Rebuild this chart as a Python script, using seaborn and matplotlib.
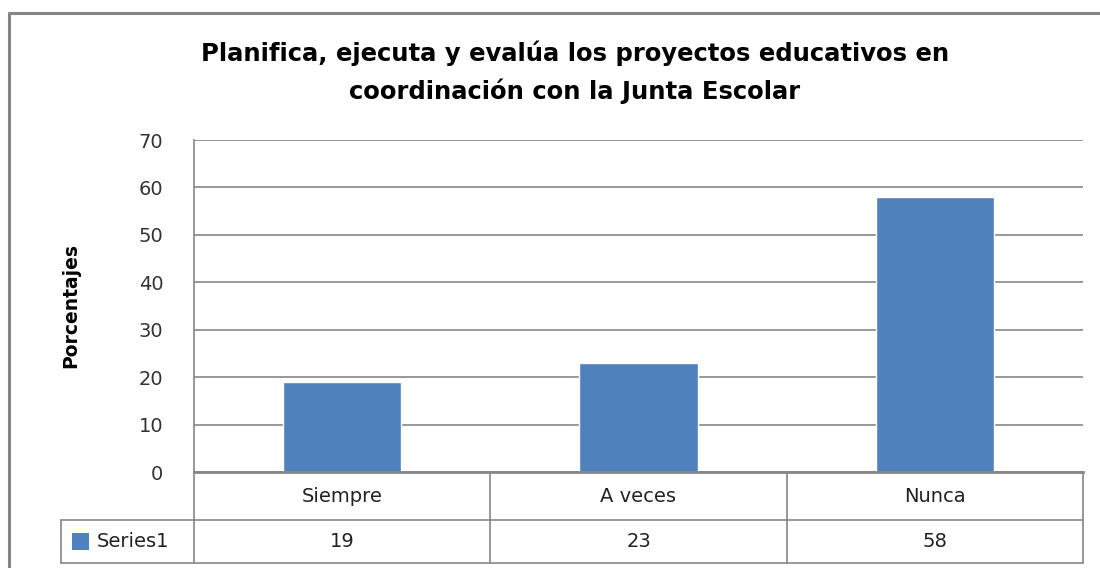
import numpy as np
import pandas as pd
import matplotlib
matplotlib.use('Agg')
import matplotlib.pyplot as plt
from matplotlib.lines import Line2D
from matplotlib.patches import Rectangle
import seaborn as sns

# datos
categorias = ['Siempre', 'A veces', 'Nunca']
valores = [19, 23, 58]
serie = 'Series1'
titulo = 'Planifica, ejecuta y evalúa los proyectos educativos en\ncoordinación con la Junta Escolar'
etiqueta_y = 'Porcentajes'
ticks_y = [0, 10, 20, 30, 40, 50, 60, 70]

AZUL = '#4F81BD'
GRIS = '#868686'
W, H = 1100, 568

sns.set_theme(style='white')
plt.rcParams['font.family'] = ['DejaVu Sans']

df = pd.DataFrame({'categoria': categorias, 'valor': valores})

fig = plt.figure(figsize=(W / 100, H / 100), dpi=100)
fig.patch.set_facecolor('white')

# área de trazado (pixeles -> fracción de figura)
x0, x1, y0, y1 = 194, 1083, 472, 140
ax = fig.add_axes([x0 / W, (H - y0) / H, (x1 - x0) / W, (y0 - y1) / H])

sns.barplot(data=df, x='categoria', y='valor', color=AZUL, width=0.4,
            saturation=1, ax=ax)

ax.set_xlim(-0.5, len(categorias) - 0.5)
ax.set_ylim(ticks_y[0], ticks_y[-1])
ax.set_yticks(ticks_y)
ax.set_yticklabels([str(t) for t in ticks_y], fontsize=14, color='#333333')
ax.tick_params(axis='y', length=0, pad=22)
ax.set_xticks([])
ax.set_xlabel('')
ax.yaxis.grid(True, color=GRIS, linewidth=1.2)
ax.set_axisbelow(True)
for lado in ['top', 'right']:
    ax.spines[lado].set_visible(False)
ax.spines['left'].set_color(GRIS)
ax.spines['left'].set_linewidth(1.2)
ax.spines['bottom'].set_color(GRIS)
ax.spines['bottom'].set_linewidth(2)

ax.set_ylabel(etiqueta_y, fontsize=13.5, fontweight='bold', color='black')
ax.yaxis.set_label_coords(-0.128, 0.5)

# tabla de datos bajo el eje
alto = y0 - y1
fila1 = -(520 - y0) / alto
fila2 = -(563 - y0) / alto
ancho_cat = (x1 - x0) / len(categorias)
izq_leyenda = -0.5 - (x0 - 61) / ancho_cat
tr = ax.get_xaxis_transform()
kw = dict(transform=tr, color=GRIS, linewidth=1.2, clip_on=False)

for i in range(len(categorias) + 1):
    ax.add_line(Line2D([i - 0.5, i - 0.5], [0, fila2], **kw))
ax.add_line(Line2D([-0.5, len(categorias) - 0.5], [fila1, fila1], **kw))
ax.add_line(Line2D([izq_leyenda, len(categorias) - 0.5], [fila2, fila2], **kw))
ax.add_line(Line2D([izq_leyenda, -0.5], [fila1, fila1], **kw))
ax.add_line(Line2D([izq_leyenda, izq_leyenda], [fila1, fila2], **kw))

for i, (c, v) in enumerate(zip(categorias, valores)):
    ax.text(i, fila1 / 2, c, transform=tr, ha='center', va='center',
            fontsize=14, color='#222222')
    ax.text(i, (fila1 + fila2) / 2, str(v), transform=tr, ha='center',
            va='center', fontsize=14, color='#222222')

# clave de leyenda
lado_px = 17
ax.add_patch(Rectangle((izq_leyenda + 11 / ancho_cat, (fila1 + fila2) / 2 - (lado_px / 2) / alto),
                       lado_px / ancho_cat, lado_px / alto, transform=tr,
                       facecolor=AZUL, edgecolor='none', clip_on=False))
ax.text(izq_leyenda + 36 / ancho_cat, (fila1 + fila2) / 2, serie, transform=tr,
        ha='left', va='center', fontsize=14, color='#222222')

# título
fig.text(575 / W, (H - 72) / H, titulo, ha='center', va='center',
         fontsize=17.5, fontweight='bold', linespacing=1.6, color='black')

# borde del gráfico
fig.add_artist(Line2D([9 / W, 9 / W], [0, (H - 13) / H], color=GRIS, linewidth=2.2,
                      transform=fig.transFigure))
fig.add_artist(Line2D([9 / W, 1], [(H - 13) / H, (H - 13) / H], color=GRIS,
                      linewidth=2.2, transform=fig.transFigure))

fig.savefig('out.png', dpi=100, facecolor='white')
